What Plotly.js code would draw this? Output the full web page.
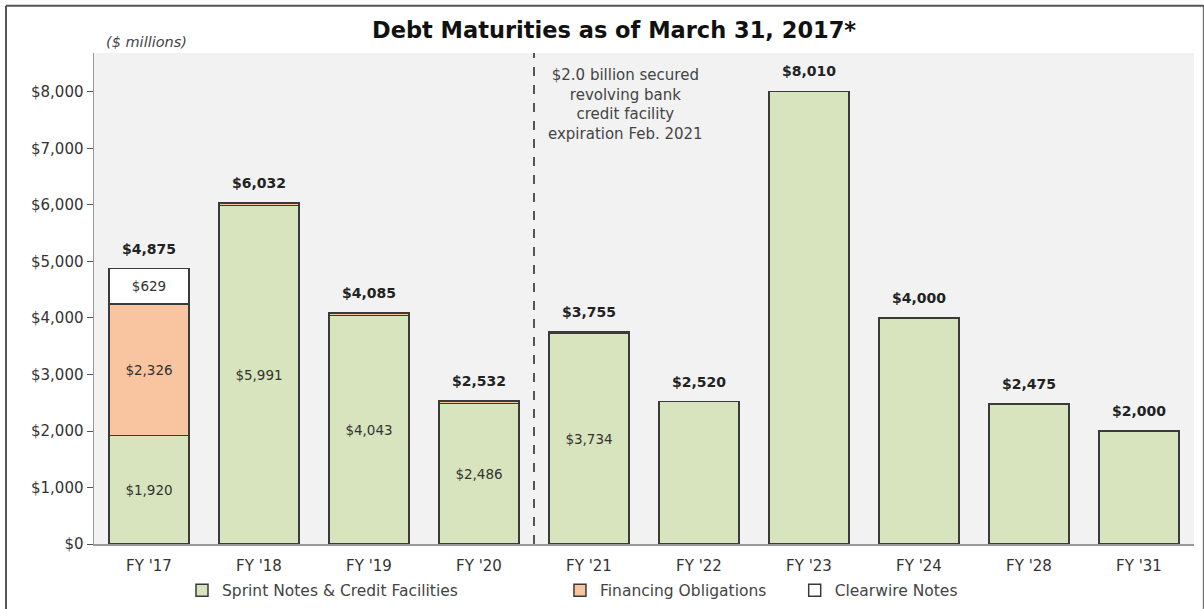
<!DOCTYPE html>
<html>
<head>
<meta charset="utf-8">
<script src="https://cdn.plot.ly/plotly-3.0.1.min.js"></script>
<style>
  html, body { margin: 0; padding: 0; background: #fff; }
  #chart { width: 1204px; height: 609px; }
</style>
</head>
<body>
<div id="chart"></div>
<script>
const categories = ["FY '17", "FY '18", "FY '19", "FY '20", "FY '21", "FY '22", "FY '23", "FY '24", "FY '28", "FY '31"];
const sprintNotes = [1920, 5991, 4043, 2486, 3734, 2520, 8010, 4000, 2475, 2000];
const financingObligations = [2326, 41, 42, 46, 21, 0, 0, 0, 0, 0];
const clearwireNotes = [629, 0, 0, 0, 0, 0, 0, 0, 0, 0];
const totals = [4875, 6032, 4085, 2532, 3755, 2520, 8010, 4000, 2475, 2000];
const sprintLabelShown = [true, true, true, true, true, false, false, false, false, false];
const financingLabelShown = [true, false, false, false, false, false, false, false, false, false];
const clearwireLabelShown = [true, false, false, false, false, false, false, false, false, false];
const yTickVals = [0, 1000, 2000, 3000, 4000, 5000, 6000, 7000, 8000];

const fmt = v => "$" + v.toLocaleString("en-US");
const FONT = "DejaVu Sans, Liberation Sans, Arial, sans-serif";
const lineCol = "#3a3a3a";

const traces = [
  {
    type: "bar", name: "Sprint Notes & Credit Facilities", x: categories, y: sprintNotes,
    marker: { color: "#d7e4bd", line: { color: lineCol, width: 1.5 } },
    text: sprintNotes.map((v, i) => sprintLabelShown[i] ? fmt(v) : ""),
    textposition: "inside", insidetextanchor: "middle", constraintext: "none",
    textfont: { family: FONT, size: 13.5, color: "#333" },
    hoverinfo: "x+y", legend: "legend"
  },
  {
    type: "bar", name: "Financing Obligations", x: categories, y: financingObligations,
    marker: { color: "#f9c4a0", line: { color: lineCol, width: 1.5 } },
    text: financingObligations.map((v, i) => financingLabelShown[i] ? fmt(v) : ""),
    textposition: "inside", insidetextanchor: "middle", constraintext: "none",
    textfont: { family: FONT, size: 13.5, color: "#333" },
    hoverinfo: "x+y", legend: "legend2"
  },
  {
    type: "bar", name: "Clearwire Notes", x: categories, y: clearwireNotes,
    marker: { color: "#ffffff", line: { color: lineCol, width: 1.5 } },
    text: clearwireNotes.map((v, i) => clearwireLabelShown[i] ? fmt(v) : ""),
    textposition: "inside", insidetextanchor: "middle", constraintext: "none",
    textfont: { family: FONT, size: 13.5, color: "#333" },
    hoverinfo: "x+y", legend: "legend3"
  }
];

const annotations = totals.map((t, i) => ({
  x: categories[i], y: t, xref: "x", yref: "y", text: "<b>" + fmt(t) + "</b>",
  showarrow: false, yanchor: "middle", yshift: 20,
  font: { family: FONT, size: 14, color: "#222" }
}));
annotations.push({
  xref: "paper", yref: "paper", x: 0.009, y: 1.003, xanchor: "left", yanchor: "bottom",
  text: "<i>($ millions)</i>", showarrow: false,
  font: { family: FONT, size: 14.5, color: "#444" }
});
annotations.push({
  xref: "x", yref: "paper", x: 4.33, y: 0.9776, xanchor: "center", yanchor: "top",
  text: "$2.0 billion secured<br>revolving bank<br>credit facility<br>expiration Feb. 2021",
  showarrow: false, align: "center",
  font: { family: FONT, size: 15, color: "#444" }
});

const legendCommon = {
  orientation: "h", yref: "paper", y: -0.0952, yanchor: "middle", xanchor: "left",
  bgcolor: "rgba(0,0,0,0)", font: { family: FONT, size: 15.5, color: "#444" },
  itemwidth: 30, itemclick: false, itemdoubleclick: false
};

const layout = {
  width: 1204, height: 609,
  margin: { l: 94, r: 10, t: 53, b: 65, autoexpand: false },
  paper_bgcolor: "#ffffff", plot_bgcolor: "#f2f2f2",
  barmode: "stack", bargap: 0.27,
  title: {
    text: "<b>Debt Maturities as of March 31, 2017*</b>",
    x: 0.51, xanchor: "center", y: 0.95, yanchor: "middle",
    font: { family: FONT, size: 22.5, color: "#111" }
  },
  xaxis: {
    type: "category", showgrid: false, zeroline: false, automargin: false,
    showline: true, linecolor: "#999", linewidth: 1.5,
    ticks: "", ticklabelstandoff: 7,
    tickfont: { family: FONT, size: 15, color: "#333" }
  },
  yaxis: {
    range: [0, 8690], tickvals: yTickVals, ticktext: yTickVals.map(fmt), automargin: false,
    showgrid: false, zeroline: false, showline: true, linecolor: "#999", linewidth: 1.5,
    ticks: "outside", ticklen: 6, tickcolor: "#555",
    tickfont: { family: FONT, size: 15, color: "#333" }
  },
  showlegend: true,
  legend: Object.assign({}, legendCommon, { x: 0.08 }),
  legend2: Object.assign({}, legendCommon, { x: 0.4236 }),
  legend3: Object.assign({}, legendCommon, { x: 0.637 }),
  annotations: annotations,
  shapes: [
    { type: "line", xref: "x", yref: "paper", x0: 3.5, x1: 3.5, y0: 0, y1: 1,
      line: { color: "#222", width: 1.5, dash: "dash" } },
    { type: "line", xref: "paper", yref: "paper", x0: -0.08, x1: -0.08, y0: -0.2, y1: 1.096,
      line: { color: "#555", width: 2 } },
    { type: "line", xref: "paper", yref: "paper", x0: -0.08, x1: 1.009, y0: 1.096, y1: 1.096,
      line: { color: "#555", width: 2 } },
    { type: "line", xref: "paper", yref: "paper", x0: 1.0085, x1: 1.0085, y0: -0.2, y1: 1.096,
      line: { color: "#555", width: 1 } }
  ]
};

Plotly.newPlot("chart", traces, layout, { displayModeBar: false, staticPlot: true });
</script>
</body>
</html>
